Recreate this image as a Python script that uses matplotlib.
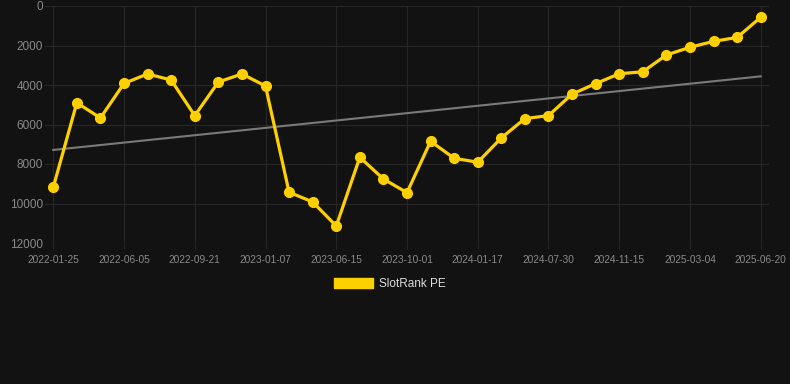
import numpy as np
import matplotlib
matplotlib.use('Agg')
import matplotlib.pyplot as plt
from matplotlib.patches import Patch

# Datos (rango SlotRank por fecha)
dates = ['2022-01-25', '', '', '2022-06-05', '', '', '2022-09-21', '', '',
         '2023-01-07', '', '', '2023-06-15', '', '', '2023-10-01', '', '',
         '2024-01-17', '', '', '2024-07-30', '', '', '2024-11-15', '', '',
         '2025-03-04', '', '', '2025-06-20']
rank = [9180, 4900, 5670, 3920, 3440, 3750, 5550, 3850, 3440, 4050,
        9430, 9920, 11140, 7660, 8760, 9450, 6850, 7710, 7910, 6680,
        5700, 5550, 4460, 3930, 3430, 3330, 2480, 2090, 1790, 1590, 570]
yticks = [0, 2000, 4000, 6000, 8000, 10000, 12000]

BG = '#121212'
GOLD = '#FFD000'

plt.rcParams['font.family'] = ['Liberation Sans', 'DejaVu Sans']

fig = plt.figure(figsize=(7.9, 3.84), dpi=100, facecolor=BG)
ax = fig.add_axes([45 / 790, 1 - 243 / 384, 724 / 790, 237 / 384])
ax.set_facecolor(BG)

x = np.arange(len(rank))

# Línea de tendencia (regresión lineal)
coef = np.polyfit(x, rank, 1)
ax.plot(x, np.polyval(coef, x), color='#7a7a7a', lw=1.5, zorder=2)

ax.plot(x, rank, color=GOLD, lw=2.3, marker='o', ms=7, zorder=3)

ax.set_xlim(-0.35, len(rank) - 1 + 0.35)
ax.set_ylim(12000, 0)
ax.set_yticks(yticks)
ax.set_yticklabels([str(v) for v in yticks])
tick_idx = [i for i, d in enumerate(dates) if d]
ax.set_xticks(tick_idx)
ax.set_xticklabels([dates[i] for i in tick_idx])

ax.grid(True, color='#262626', lw=0.8)
for s in ax.spines.values():
    s.set_visible(False)
ax.tick_params(axis='y', length=0, pad=1.5, labelsize=8.5, labelcolor='#8a8a8a')
ax.tick_params(axis='x', length=4, color='#262626', pad=4.5, labelsize=7.3, labelcolor='#8a8a8a')

fig.legend(handles=[Patch(color=GOLD, label='SlotRank PE')],
           loc='center', bbox_to_anchor=(389.5 / 790, 1 - 284 / 384), frameon=False,
           handlelength=3.3, handleheight=1.0, handletextpad=0.5,
           labelcolor='#dddddd', fontsize=8.5)

fig.savefig('out.png', dpi=100, facecolor=BG)
